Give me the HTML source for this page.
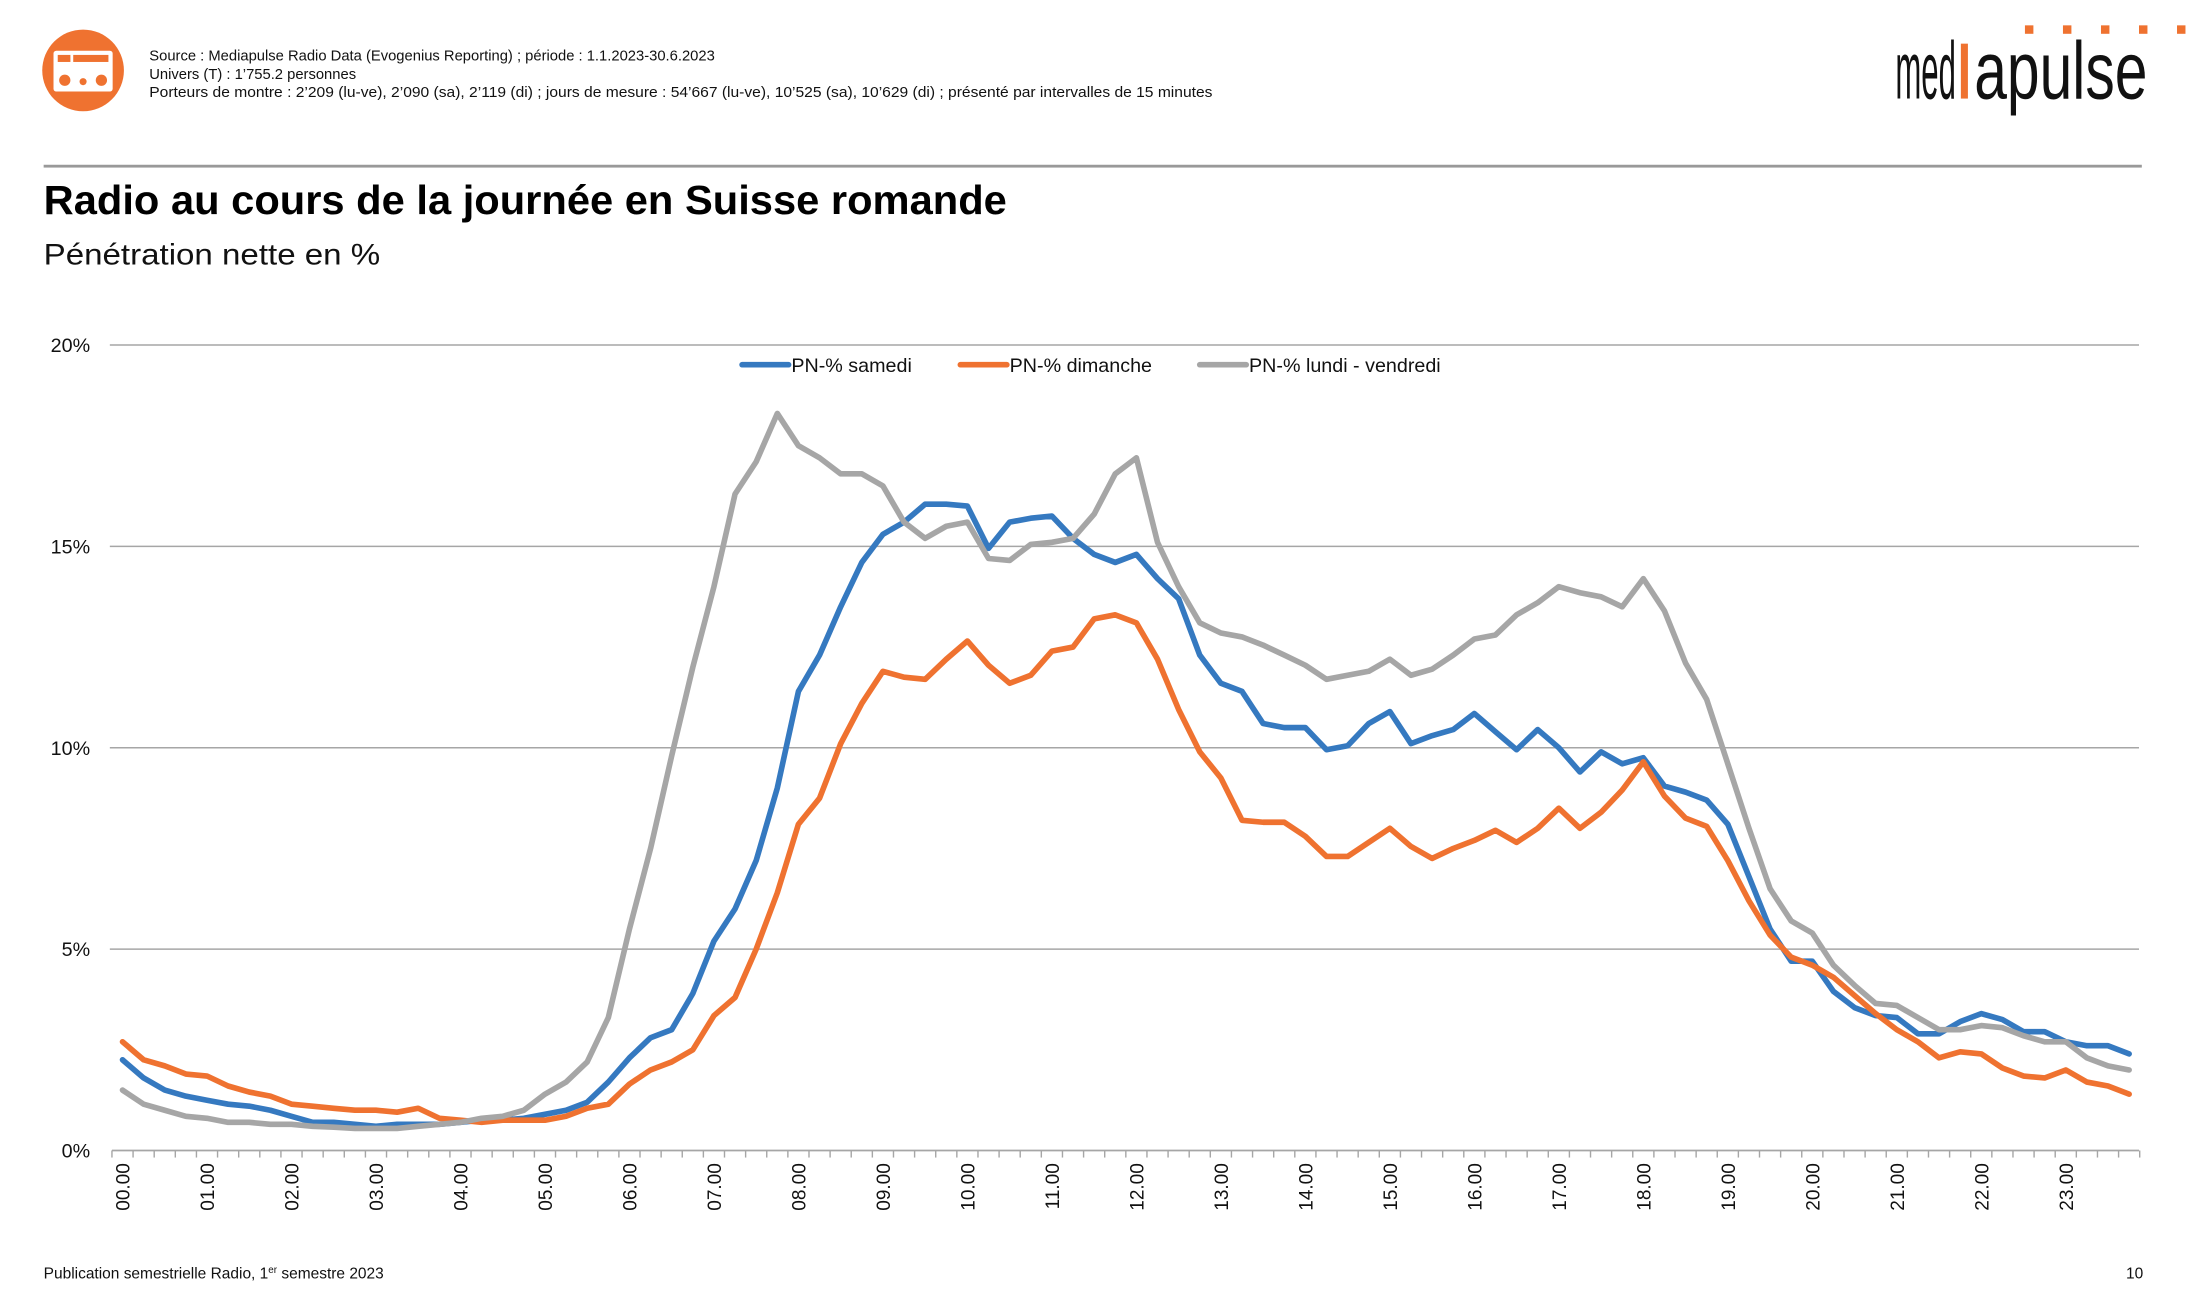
<!DOCTYPE html>
<html><head><meta charset="utf-8"><style>
html,body{margin:0;padding:0;background:#fff;}
svg{display:block;font-family:"Liberation Sans",Arial,sans-serif;}
</style></head><body>
<svg id="s" width="2208" height="1314" viewBox="0 0 1568 933.1" preserveAspectRatio="none" xmlns="http://www.w3.org/2000/svg">
<circle cx="59" cy="50" r="29" fill="#ef7230"/>
<rect x="38" y="36" width="42" height="29" rx="2" fill="#fff"/>
<rect x="41" y="39" width="9" height="5" fill="#ef7230"/>
<rect x="52" y="39" width="25" height="5" fill="#ef7230"/>
<circle cx="46" cy="57" r="4" fill="#ef7230"/>
<circle cx="59" cy="58" r="2.5" fill="#ef7230"/>
<circle cx="72" cy="57" r="4" fill="#ef7230"/>
<g font-size="10.5" fill="#111">
<text x="106" y="43">Source : Mediapulse Radio Data (Evogenius Reporting) ; période : 1.1.2023-30.6.2023</text>
<text x="106" y="56">Univers (T) : 1’755.2 personnes</text>
<text x="106" y="69" textLength="755" lengthAdjust="spacingAndGlyphs">Porteurs de montre : 2’209 (lu-ve), 2’090 (sa), 2’119 (di) ; jours de mesure : 54’667 (lu-ve), 10’525 (sa), 10’629 (di) ; présenté par intervalles de 15 minutes</text>
</g>
<text x="1346" y="70" font-size="58" fill="#111" textLength="43" lengthAdjust="spacingAndGlyphs">med</text>
<text x="1402" y="70" font-size="58" fill="#111" textLength="123" lengthAdjust="spacingAndGlyphs">apulse</text>
<rect x="1392.5" y="31" width="5" height="39" fill="#ef7230"/>
<g fill="#ef7230"><rect x="1438" y="18" width="6" height="6"/><rect x="1465" y="18" width="6" height="6"/><rect x="1492" y="18" width="6" height="6"/><rect x="1519" y="18" width="6" height="6"/><rect x="1546" y="18" width="6" height="6"/></g>
<rect x="31" y="117" width="1490" height="2" fill="#999"/>
<text x="31" y="152" font-size="29" font-weight="bold" fill="#000" textLength="684" lengthAdjust="spacingAndGlyphs">Radio au cours de la journée en Suisse romande</text>
<text x="31" y="188" font-size="21" fill="#111" textLength="239" lengthAdjust="spacingAndGlyphs">Pénétration nette en %</text>
<g id="grid"></g>
<g id="lines"></g>
<g font-size="14" fill="#111">
<line x1="527" y1="259" x2="560" y2="259" stroke="#3579c0" stroke-width="4" stroke-linecap="round"/>
<text x="562" y="264">PN-% samedi</text>
<line x1="682" y1="259" x2="715" y2="259" stroke="#ef7230" stroke-width="4" stroke-linecap="round"/>
<text x="717" y="264">PN-% dimanche</text>
<line x1="852" y1="259" x2="885" y2="259" stroke="#a6a6a6" stroke-width="4" stroke-linecap="round"/>
<text x="887" y="264">PN-% lundi - vendredi</text>
</g>
<text x="31" y="908" font-size="11" fill="#111">Publication semestrielle Radio, 1<tspan font-size="7" dy="-4">er</tspan><tspan dy="4"> semestre 2023</tspan></text>
<text x="1522" y="908" font-size="11" fill="#111" text-anchor="end">10</text>
</svg>
<script>
var NS="http://www.w3.org/2000/svg";
function el(p,t,a,txt){var e=document.createElementNS(NS,t);for(var k in a)e.setAttribute(k,a[k]);if(txt!=null)e.textContent=txt;p.appendChild(e);return e;}
var y0=817,k=28.6,x0=87,dx=15;
var g=document.getElementById('grid'),L=document.getElementById('lines');
for(var p=5;p<=20;p+=5){var y=y0-p*k;el(g,'line',{x1:78,x2:1519,y1:y,y2:y,stroke:'#a6a6a6','stroke-width':1});}
for(var p=0;p<=20;p+=5){el(g,'text',{x:64,y:y0-p*k+5,'font-size':14,'text-anchor':'end',fill:'#111'},p+'%');}
el(g,'line',{x1:79.5,x2:1519,y1:y0,y2:y0,stroke:'#a6a6a6','stroke-width':1.2});
for(var i=0;i<=96;i++){var x=79.5+i*15;el(g,'line',{x1:x,x2:x,y1:y0,y2:y0+5,stroke:'#a6a6a6','stroke-width':1});}
for(var h=0;h<24;h++){var x=x0+h*60;var lab=(h<10?'0':'')+h+'.00';el(g,'text',{x:0,y:0,'font-size':13.5,'text-anchor':'end',fill:'#111',transform:'translate('+(x+5)+','+(y0+9)+') rotate(-90)'},lab);}
var gray=[1.5,1.15,1.0,0.85,0.8,0.7,0.7,0.65,0.65,0.6,0.58,0.55,0.55,0.55,0.6,0.65,0.7,0.8,0.85,1.0,1.4,1.7,2.2,3.3,5.5,7.5,9.8,12.0,14.0,16.3,17.1,18.3,17.5,17.2,16.8,16.8,16.5,15.6,15.2,15.5,15.6,14.7,14.65,15.05,15.1,15.2,15.8,16.8,17.2,15.1,14.0,13.1,12.85,12.75,12.55,12.3,12.05,11.7,11.8,11.9,12.2,11.8,11.95,12.3,12.7,12.8,13.3,13.6,14.0,13.85,13.75,13.5,14.2,13.4,12.1,11.2,9.6,8.0,6.5,5.7,5.4,4.6,4.1,3.65,3.6,3.3,3.0,3.0,3.1,3.05,2.85,2.7,2.7,2.3,2.1,2.0];
var blue=[2.25,1.8,1.5,1.35,1.25,1.15,1.1,1.0,0.85,0.7,0.7,0.65,0.6,0.65,0.65,0.65,0.7,0.75,0.75,0.8,0.9,1.0,1.2,1.7,2.3,2.8,3.0,3.9,5.2,6.0,7.2,9.0,11.4,12.3,13.5,14.6,15.3,15.6,16.05,16.05,16.0,14.95,15.6,15.7,15.75,15.2,14.8,14.6,14.8,14.2,13.7,12.3,11.6,11.4,10.6,10.5,10.5,9.95,10.05,10.6,10.9,10.1,10.3,10.45,10.85,10.4,9.95,10.45,10.0,9.4,9.9,9.6,9.75,9.05,8.9,8.7,8.1,6.8,5.5,4.7,4.7,3.95,3.55,3.35,3.3,2.9,2.9,3.2,3.4,3.25,2.95,2.95,2.7,2.6,2.6,2.4];
var orange=[2.7,2.25,2.1,1.9,1.85,1.6,1.45,1.35,1.15,1.1,1.05,1.0,1.0,0.95,1.05,0.8,0.75,0.7,0.75,0.75,0.75,0.85,1.05,1.15,1.65,2.0,2.2,2.5,3.35,3.8,5.0,6.4,8.1,8.75,10.1,11.1,11.9,11.75,11.7,12.2,12.65,12.05,11.6,11.8,12.4,12.5,13.2,13.3,13.1,12.2,10.95,9.9,9.25,8.2,8.15,8.15,7.8,7.3,7.3,7.65,8.0,7.55,7.25,7.5,7.7,7.95,7.65,8.0,8.5,8.0,8.4,8.95,9.65,8.8,8.25,8.05,7.2,6.2,5.35,4.8,4.6,4.3,3.85,3.4,3.0,2.7,2.3,2.45,2.4,2.05,1.85,1.8,2.0,1.7,1.6,1.4];
function pl(d,c){var pts=d.map(function(v,i){return (x0+i*dx)+','+(y0-v*k).toFixed(1)}).join(' ');el(L,'polyline',{points:pts,fill:'none',stroke:c,'stroke-width':4,'stroke-linejoin':'round','stroke-linecap':'round'});}
pl(blue,'#3579c0');pl(orange,'#ef7230');pl(gray,'#a6a6a6');
</script>
</body></html>
